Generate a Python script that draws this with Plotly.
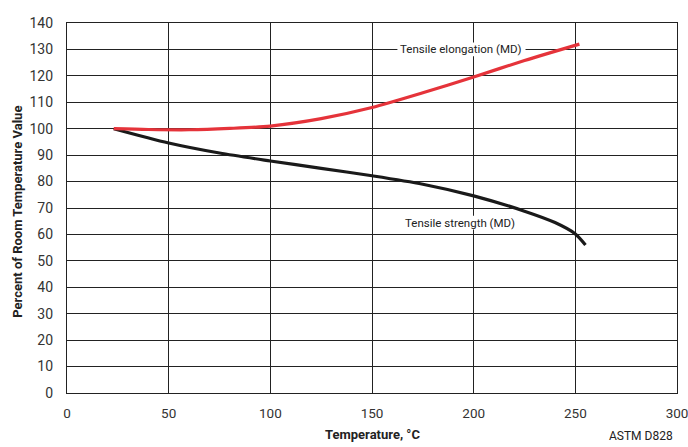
import plotly.graph_objects as go

# Data
elong_temp = [23, 40, 60, 80, 100, 125, 150, 175, 200, 225, 252]
elong_pct = [100, 99.7, 99.6, 100.1, 101, 103.8, 108, 113.6, 119.6, 125.8, 132]

strength_temp = [23, 50, 75, 100, 125, 150, 175, 200, 225, 240, 250, 255]
strength_pct = [100, 94.6, 90.8, 87.8, 85, 82.2, 79, 74.6, 68.8, 64.5, 60.2, 56]

x_ticks = [0, 50, 100, 150, 200, 250, 300]
y_ticks = [0, 10, 20, 30, 40, 50, 60, 70, 80, 90, 100, 110, 120, 130, 140]

FONT = "Liberation Sans Narrow, Arial Narrow, Roboto, Liberation Sans, Arial, sans-serif"

fig = go.Figure()
fig.add_trace(go.Scatter(x=strength_temp, y=strength_pct, mode="lines",
                         line=dict(color="#1a1a1a", width=3.2, shape="spline", smoothing=0.8),
                         name="Tensile strength (MD)", showlegend=False))
fig.add_trace(go.Scatter(x=elong_temp, y=elong_pct, mode="lines",
                         line=dict(color="#e5333a", width=3.2, shape="spline", smoothing=0.8),
                         name="Tensile elongation (MD)", showlegend=False))

# white backgrounds behind labels (below the curves, above the grid)
fig.add_shape(type="rect", x0=162.5, x1=225.5, y0=127.4, y1=132.6, layer="between",
              fillcolor="white", line=dict(width=0))
fig.add_shape(type="rect", x0=165.5, x1=221.5, y0=61.9, y1=67.1, layer="between",
              fillcolor="white", line=dict(width=0))

fig.add_annotation(x=194, y=130, text="Tensile elongation (MD)", showarrow=False,
                   font=dict(family=FONT, size=11.5, color="#222"))
fig.add_annotation(x=193.5, y=64.5, text="Tensile strength (MD)", showarrow=False,
                   font=dict(family=FONT, size=11.5, color="#222"))

# axis titles and source note
fig.add_annotation(x=0.5, xref="paper", y=0, yref="paper", yanchor="middle",
                   yshift=-41, text="<b>Temperature, °C</b>", showarrow=False,
                   font=dict(family=FONT, size=13, color="#222"))
fig.add_annotation(x=0, xref="paper", xanchor="center", xshift=-49, y=0.49, yref="paper",
                   yanchor="middle", textangle=-90,
                   text="<b>Percent of Room Temperature Value</b>", showarrow=False,
                   font=dict(family=FONT, size=13, color="#222"))
fig.add_annotation(x=1.0, xref="paper", xanchor="right", xshift=-2, y=0, yref="paper",
                   yanchor="middle", yshift=-43, text="ASTM D828", showarrow=False,
                   font=dict(family=FONT, size=12, color="#222"))

fig.update_layout(
    width=688, height=447,
    margin=dict(l=67, r=11, t=23, b=54),
    paper_bgcolor="white", plot_bgcolor="white",
    font=dict(family=FONT, size=13, color="#333"),
    xaxis=dict(range=[0, 300], tickvals=x_ticks, showgrid=True, gridcolor="#222",
               gridwidth=1.2, zeroline=False, showline=True, linecolor="#222",
               linewidth=1.2, mirror=True, ticks="", ticklabelstandoff=8,
               ticklabeloverflow="allow",
               automargin=False, tickfont=dict(size=13.5, color="#333")),
    yaxis=dict(range=[0, 140], tickvals=y_ticks, showgrid=True, gridcolor="#222",
               gridwidth=1.2, zeroline=False, showline=True, linecolor="#222",
               linewidth=1.2, mirror=True, ticks="", ticklabelstandoff=10,
               automargin=False, tickfont=dict(size=14, color="#333")),
)

# remove the default page margin so the figure fills the window exactly
fig.write_html("out.html",
               config={"displayModeBar": False},
               post_script="document.body.style.margin='0';document.body.style.overflow='hidden';")
